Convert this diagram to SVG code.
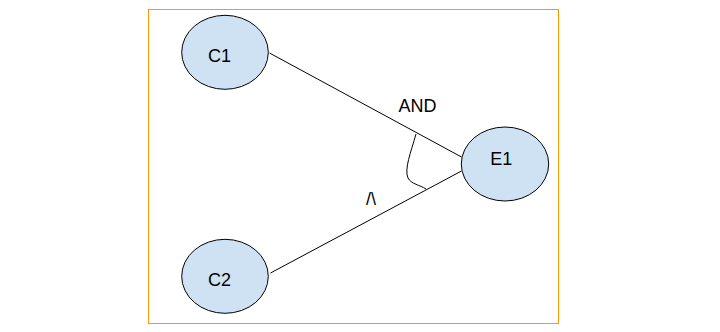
<svg xmlns="http://www.w3.org/2000/svg" width="720" height="332" viewBox="0 0 720 332">
<style>
.node{fill:#cfe2f3;stroke:#000;stroke-width:1}
.lbl{font-family:"Liberation Sans",Arial,sans-serif;font-size:18px;fill:#000;text-anchor:middle}
.edge{fill:none;stroke:#000;stroke-width:1}
</style>
<rect x="0" y="0" width="720" height="332" fill="#fff"/>
<rect x="148.5" y="9.5" width="410" height="314" fill="#fff" stroke="#ff9900" stroke-width="1"/>
<g id="connectors">
<line class="edge" x1="269.5" y1="53" x2="461.5" y2="157"/>
<line class="edge" x1="270.5" y1="273" x2="461.5" y2="171"/>
<path class="edge" d="M416 134 C411 152 404 169 408 178 C411 184 420 185 426 189"/>
<text class="lbl" x="417.5" y="112">AND</text>
<text class="lbl" x="371" y="205" font-size="16">/\</text>
</g>
<g id="C1">
<ellipse class="node" cx="225" cy="52.3" rx="43.3" ry="37"/>
<text class="lbl" x="219.5" y="61.5">C1</text>
</g>
<g id="C2">
<ellipse class="node" cx="225" cy="276.3" rx="43.3" ry="37"/>
<text class="lbl" x="219.5" y="286">C2</text>
</g>
<g id="E1">
<ellipse class="node" cx="505" cy="164" rx="43.7" ry="37"/>
<text class="lbl" x="501.2" y="165.3">E1</text>
</g>
</svg>
